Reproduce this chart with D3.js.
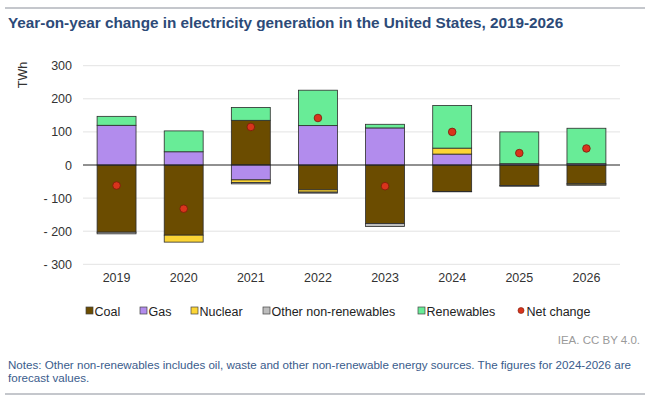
<!DOCTYPE html>
<html lang="en">
<head>
  <meta charset="UTF-8">
  <title>Year-on-year change in electricity generation</title>
  <script src="https://d3js.org/d3.v7.min.js"></script>
  <style>
    body { margin: 0; background: #fff; }
    svg { font-family: "Liberation Sans", Arial, sans-serif; }
  </style>
</head>
<body>
<svg id="chart" width="650" height="403"></svg>
<script>
const years = ["2019", "2020", "2021", "2022", "2023", "2024", "2025", "2026"];
const coal = [-203, -212, 135, -75, -177, -80, -62, -56];
const gas = [120, 40, -45, 119, 112, 33, 4, 4];
const nuclear = [0, -21, -8, -7, 0, 18, -1, -4];
const other = [-5, 0, -4, -3, -9, -1, -1, -1];
const renewables = [27, 63, 39, 107, 11, 129, 96, 107];
const netChange = [-62, -132, 115, 142, -64, 100, 36, 50];
const yTicks = [-300, -200, -100, 0, 100, 200, 300];

const series = [
  { key: "coal", label: "Coal", values: coal, color: "#6b4c00" },
  { key: "gas", label: "Gas", values: gas, color: "#b28ced" },
  { key: "nuclear", label: "Nuclear", values: nuclear, color: "#fcd535" },
  { key: "other", label: "Other non-renewables", values: other, color: "#bdbdbd" },
  { key: "renewables", label: "Renewables", values: renewables, color: "#68ec97" }
];

const rows = years.map((y, i) => {
  const r = { year: y };
  series.forEach(s => r[s.key] = s.values[i]);
  return r;
});

const svg = d3.select("#chart");

// top and bottom rules
svg.append("line").attr("x1", 5).attr("x2", 645).attr("y1", 8).attr("y2", 8)
  .attr("stroke", "#8a8f99").attr("stroke-width", 1);
svg.append("line").attr("x1", 5).attr("x2", 645).attr("y1", 394).attr("y2", 394)
  .attr("stroke", "#8a8f99").attr("stroke-width", 1);

svg.append("text")
  .attr("x", 8).attr("y", 28)
  .attr("fill", "#2c4a78")
  .attr("font-size", 15.3).attr("font-weight", "bold")
  .text("Year-on-year change in electricity generation in the United States, 2019-2026");

const x = d3.scaleBand().domain(years).range([83, 620]).paddingInner(0.42).paddingOuter(0.21);
const y = d3.scaleLinear().domain([-300, 300]).range([264.3, 65.7]);

// grid
svg.append("g").selectAll("line").data(yTicks.filter(t => t !== 0)).join("line")
  .attr("x1", 83).attr("x2", 620)
  .attr("y1", d => y(d)).attr("y2", d => y(d))
  .attr("stroke", "#e3e3e3").attr("stroke-width", 1);

// y axis labels
const yAxis = svg.append("g").attr("transform", "translate(80,0)")
  .call(d3.axisLeft(y).tickValues(yTicks).tickSize(0).tickPadding(8)
    .tickFormat(d => d < 0 ? "- " + Math.abs(d) : d));
yAxis.select(".domain").remove();
yAxis.selectAll("text").attr("font-size", 12.5).attr("fill", "#333")
  .style("font-family", "Liberation Sans, Arial, sans-serif");

svg.append("text")
  .attr("transform", "translate(27,75) rotate(-90)")
  .attr("text-anchor", "middle")
  .attr("font-size", 12.5).attr("fill", "#333")
  .text("TWh");

// stacked bars
const stack = d3.stack().keys(series.map(s => s.key)).offset(d3.stackOffsetDiverging);
const stacked = stack(rows);

svg.append("g").selectAll("g").data(stacked).join("g")
  .attr("fill", (d, i) => series[i].color)
  .selectAll("rect").data(d => d).join("rect")
  .attr("x", d => x(d.data.year))
  .attr("y", d => y(Math.max(d[0], d[1])))
  .attr("width", x.bandwidth())
  .attr("height", d => Math.abs(y(d[0]) - y(d[1])))
  .attr("stroke", "#2b2b2b").attr("stroke-width", 0.8);

// zero line
svg.append("line").attr("x1", 83).attr("x2", 620)
  .attr("y1", y(0)).attr("y2", y(0))
  .attr("stroke", "#222").attr("stroke-width", 1);

// x axis labels
const xAxis = svg.append("g").attr("transform", `translate(0,${y(-300)})`)
  .call(d3.axisBottom(x).tickSize(0).tickPadding(9));
xAxis.select(".domain").remove();
xAxis.selectAll("text").attr("font-size", 12.5).attr("fill", "#333")
  .style("font-family", "Liberation Sans, Arial, sans-serif");

// net change dots
svg.append("g").selectAll("circle").data(years).join("circle")
  .attr("cx", d => x(d) + x.bandwidth() / 2)
  .attr("cy", (d, i) => y(netChange[i]))
  .attr("r", 3.8)
  .attr("fill", "#d8341c").attr("stroke", "#7a1a0a").attr("stroke-width", 0.8);

// legend
const legendItems = series.map(s => ({ label: s.label, color: s.color, type: "rect" }))
  .concat([{ label: "Net change", color: "#d8341c", type: "dot" }]);
const legendX = [86, 140, 191, 263, 418, 518];
const lg = svg.append("g").attr("font-size", 12.5).attr("fill", "#222");
legendItems.forEach((it, i) => {
  const g = lg.append("g").attr("transform", `translate(${legendX[i]},311)`);
  if (it.type === "rect") {
    g.append("rect").attr("x", 0).attr("y", -4).attr("width", 7).attr("height", 7)
      .attr("fill", it.color).attr("stroke", "#444").attr("stroke-width", 0.7);
  } else {
    g.append("circle").attr("cx", 3).attr("cy", -0.5).attr("r", 3)
      .attr("fill", it.color).attr("stroke", "#7a1a0a").attr("stroke-width", 0.6);
  }
  g.append("text").attr("x", 8.5).attr("y", 4.5).text(it.label);
});

svg.append("text")
  .attr("x", 640).attr("y", 344).attr("text-anchor", "end")
  .attr("font-size", 11.5).attr("fill", "#9a9a9a")
  .text("IEA. CC BY 4.0.");

const notes = svg.append("text").attr("font-size", 11.6).attr("fill", "#3a5c8c");
notes.append("tspan").attr("x", 8).attr("y", 369)
  .text("Notes: Other non-renewables includes oil, waste and other non-renewable energy sources. The figures for 2024-2026 are");
notes.append("tspan").attr("x", 8).attr("y", 382).text("forecast values.");
</script>
</body>
</html>
